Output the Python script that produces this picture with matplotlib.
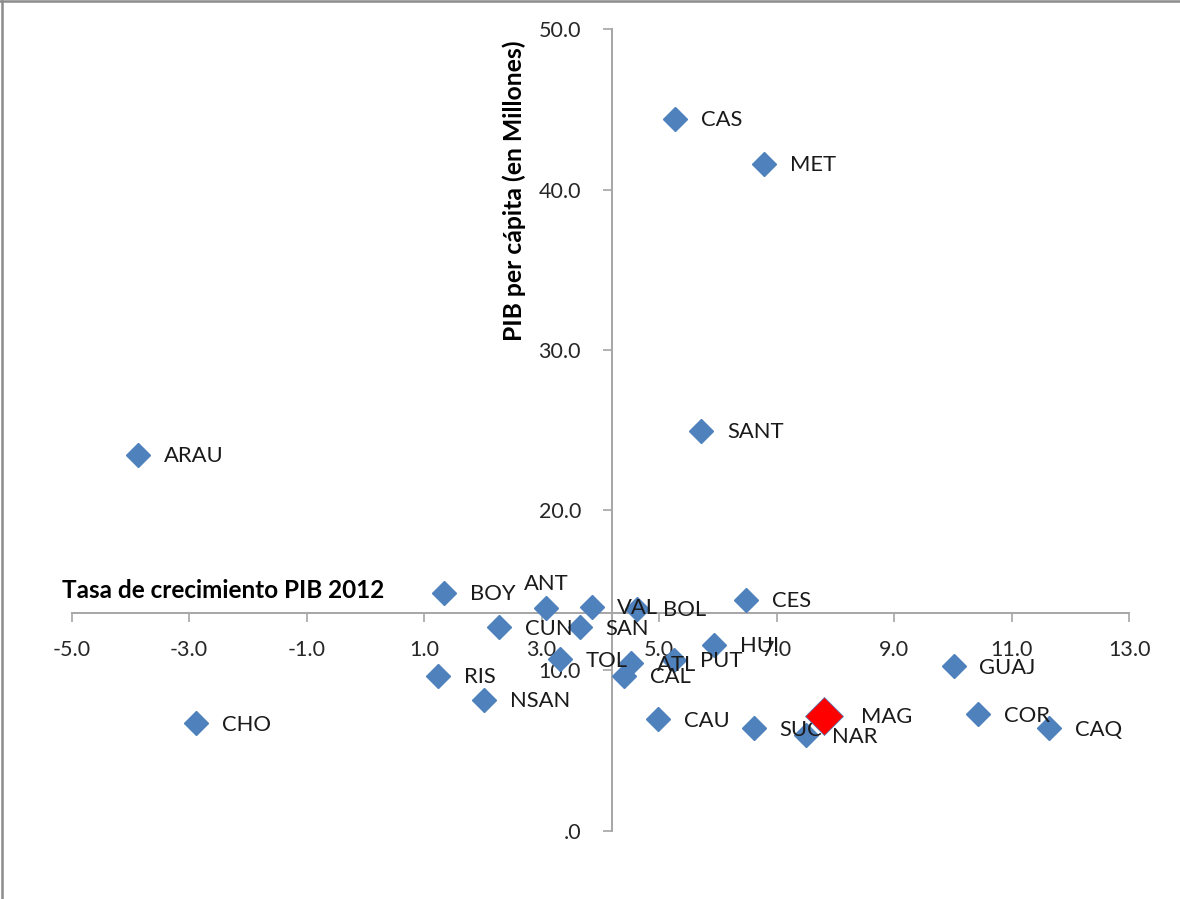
import matplotlib
matplotlib.use("Agg")
import matplotlib.pyplot as plt
from matplotlib.lines import Line2D

plt.rcParams['font.family'] = ['Lato', 'DejaVu Sans']

# ---- data ----
departments = ["CAS", "MET", "SANT", "ARAU", "BOY", "ANT", "VAL", "BOL", "CES",
               "CUN", "SAN", "HUI", "TOL", "ATL", "PUT", "CAL", "RIS", "NSAN",
               "CHO", "CAU", "SUC", "NAR", "GUAJ", "COR", "CAQ"]
growth = [5.27, 6.79, 5.72, -3.86, 1.34, 3.08, 3.85, 4.62, 6.48,
          2.28, 3.65, 5.93, 3.31, 4.52, 5.26, 4.41, 1.24, 2.02,
          -2.88, 4.98, 6.61, 7.50, 10.01, 10.43, 11.64]
pib_pc = [44.4, 41.6, 24.95, 23.45, 14.85, 13.9, 13.95, 13.85, 14.4,
          12.7, 12.7, 11.6, 10.7, 10.45, 10.65, 9.65, 9.65, 8.15,
          6.7, 6.95, 6.4, 5.95, 10.25, 7.25, 6.4]
label_above = ["ANT"]

highlight_name = "MAG"
highlight_growth = [7.80]
highlight_pib = [7.16]

x_cross = 4.2      # national growth (vertical axis position)
y_cross = 13.56    # national PIB per capita (horizontal axis position)

x_ticks = [-5, -3, -1, 1, 3, 5, 7, 9, 11, 13]
x_tick_labels = ["-5.0", "-3.0", "-1.0", "1.0", "3.0", "5.0", "7.0", "9.0", "11.0", "13.0"]
y_ticks = [0, 10, 20, 30, 40, 50]
y_tick_labels = [".0", "10.0", "20.0", "30.0", "40.0", "50.0"]

x_title = "Tasa de crecimiento PIB 2012"
y_title = "PIB per cápita (en Millones)"

# ---- figure ----
W, H = 1180, 899
fig = plt.figure(figsize=(W / 100, H / 100), dpi=100)
ax = fig.add_axes([71.5 / W, (H - 830.7) / H, (1129.3 - 71.5) / W, (830.7 - 29.3) / H])
ax.set_xlim(-5, 13)
ax.set_ylim(0, 50)

axis_color = "#A6A6A6"
for s in ["top", "right"]:
    ax.spines[s].set_visible(False)
ax.spines["bottom"].set_position(("data", y_cross))
ax.spines["left"].set_position(("data", x_cross))
for s in ["bottom", "left"]:
    ax.spines[s].set_color(axis_color)
    ax.spines[s].set_linewidth(1.4)

ax.set_xticks(x_ticks)
ax.set_xticklabels(x_tick_labels)
ax.set_yticks(y_ticks)
ax.set_yticklabels(y_tick_labels)
ax.tick_params(axis="x", direction="out", length=6.5, width=1.2, color=axis_color,
               pad=13, labelsize=15.5, labelcolor="#262626")
ax.tick_params(axis="y", direction="out", length=6.5, width=1.2, color=axis_color,
               pad=16, labelsize=15.5, labelcolor="#262626")

blue = "#4F81BD"
ax.plot(growth, pib_pc, linestyle="none", marker="D", markersize=12,
        color=blue, markeredgecolor=blue, zorder=3, clip_on=False)
ax.plot(highlight_growth, highlight_pib, linestyle="none", marker="D", markersize=19.5,
        color="#FF0000", markeredgecolor="#5B79B0", markeredgewidth=0.6, zorder=5, clip_on=False)

lab_kw = dict(fontsize=15.8, color="#1a1a1a", textcoords="offset points", zorder=4)
for name, gx, py in zip(departments, growth, pib_pc):
    if name in label_above:
        ax.annotate(name, (gx, py), xytext=(0, 17.5), ha="center", va="center", **lab_kw)
    else:
        ax.annotate(name, (gx, py), xytext=(18.5, -1), ha="left", va="center", **lab_kw)
ax.annotate(highlight_name, (highlight_growth[0], highlight_pib[0]), xytext=(26.5, -1),
            ha="left", va="center", **lab_kw)

# axis titles
fig.text(62 / W, 1 - 590 / H, x_title, fontsize=17.5, fontweight="bold",
         ha="left", va="center", color="#000000")
fig.text(514 / W, 1 - 191 / H, y_title, fontsize=17.8, fontweight="bold",
         rotation=90, ha="center", va="center", color="#000000")

# chart border (top and left visible)
fig.add_artist(Line2D([1.5 / W, 1.5 / W], [0, 1 - 1 / H], color="#8C8C8C", lw=1.8))
fig.add_artist(Line2D([0, 1], [1 - 1 / H, 1 - 1 / H], color="#8C8C8C", lw=1.8))

fig.savefig("out.png", dpi=100)
